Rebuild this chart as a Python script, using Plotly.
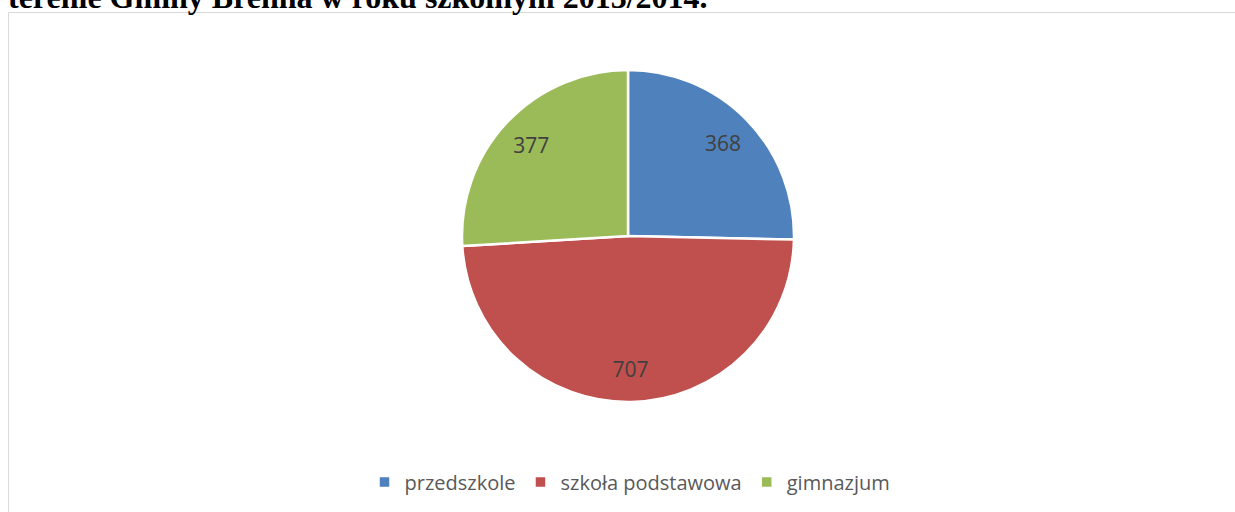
import plotly.graph_objects as go

categories = ["przedszkole", "szkoła podstawowa", "gimnazjum"]
values = [368, 707, 377]
colors = ["#4F81BD", "#C0504D", "#9BBB59"]
title_text = "terenie Gminy Brenna w roku szkolnym 2013/2014."

W, H = 1235, 512
cx, cy, r = 628, 236, 166
domain = dict(x=[(cx - r) / W, (cx + r) / W], y=[1 - (cy + r) / H, 1 - (cy - r) / H])

fig = go.Figure()
fig.add_trace(go.Pie(
    labels=categories, values=values, sort=False, direction="clockwise", rotation=0,
    marker=dict(colors=colors, line=dict(color="white", width=2.5)),
    textinfo="none", domain=domain, hoverinfo="label+value",
))
# transparent ring carrying the data labels (places them at ~0.8 r, like the original)
fig.add_trace(go.Pie(
    labels=categories, values=values, sort=False, direction="clockwise", rotation=0,
    hole=0.6, showlegend=False,
    marker=dict(colors=["rgba(0,0,0,0)"] * 3, line=dict(width=0)),
    textinfo="value", textposition="inside", insidetextorientation="horizontal",
    textfont=dict(family="Open Sans", size=21, color="#404040"),
    domain=domain, hoverinfo="skip",
))

fig.add_shape(type="rect", xref="paper", yref="paper",
              x0=8.5 / W, x1=1.05, y0=-0.1, y1=1 - 12.5 / H,
              line=dict(color="#D9D9D9", width=1), fillcolor="rgba(0,0,0,0)", layer="below")

fig.add_annotation(text="<b>" + title_text + "</b>", xref="paper", yref="paper",
                   x=6 / W, y=1 - 17.5 / H, xanchor="left", yanchor="bottom", showarrow=False,
                   font=dict(family="Liberation Serif", size=32, color="black"))

fig.update_layout(
    width=W, height=H,
    margin=dict(l=0, r=0, t=0, b=0),
    paper_bgcolor="white",
    plot_bgcolor="white",
    showlegend=True,
    legend=dict(orientation="h", x=630 / W, xanchor="center", y=1 - 482 / H, yanchor="middle",
                font=dict(family="Open Sans", size=20, color="#595959"), itemwidth=30,
                traceorder="normal"),
)

fig.write_html("out.html", config={"displayModeBar": False},
               post_script="document.body.style.margin='0';")
